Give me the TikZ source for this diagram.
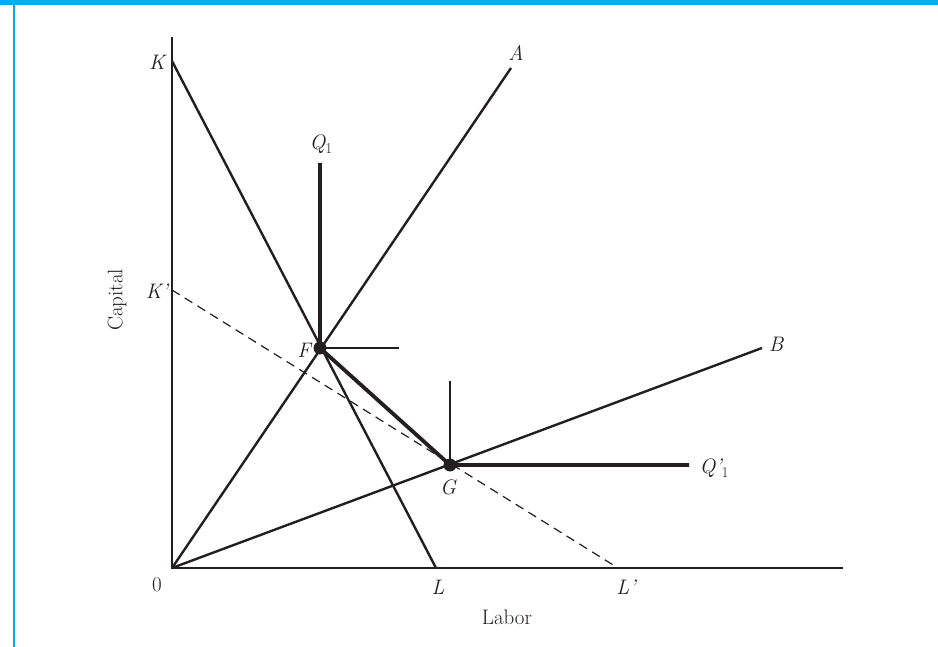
\documentclass[tikz,border=0pt]{standalone}
\usepackage{fontspec}
\setmainfont{Latin Modern Roman}
\definecolor{barblue}{RGB}{0,174,239}
\definecolor{ink}{RGB}{35,31,32}
\newcommand{\subone}{\raisebox{-0.5ex}{\upshape\fontsize{15}{17}\selectfont 1}}
\begin{document}
\begin{tikzpicture}[x=1pt,y=-1pt,
  lbl/.style={font=\fontsize{21}{24}\selectfont, text=ink, inner sep=0pt},
  ilbl/.style={lbl, font=\fontsize{21}{24}\selectfont\itshape},
  axis/.style={draw=ink, line width=1.4pt},
  ray/.style={draw=ink, line width=2.4pt},
  heavy/.style={draw=ink, line width=3.8pt},
  hair/.style={draw=ink, line width=1.2pt},
  dashline/.style={draw=ink, line width=1.2pt, dash pattern=on 9pt off 6pt},
  dot/.style={circle, fill=ink, minimum size=13pt, inner sep=0pt}]
\useasboundingbox (0,0) rectangle (938,647);
\fill[white] (0,0) rectangle (938,647);
% frame decorations
\fill[barblue] (0,0) rectangle (938,5);
\draw[barblue, line width=1.6pt] (14,5) -- (14,647);
% coordinates
\coordinate (O) at (172,568);
\coordinate (Ytop) at (172,37);
\coordinate (Xend) at (843,568);
\coordinate (K) at (172,61);
\coordinate (L) at (436,568);
\coordinate (Kp) at (172,290);
\coordinate (Lp) at (618,568);
\coordinate (Aend) at (511,68);
\coordinate (Bend) at (762,348);
\coordinate (Q1top) at (320,163);
\coordinate (Fright) at (399,348);
\coordinate (Gtop) at (450,381);
\coordinate (Gright) at (689,465);
% axes
\draw[axis] (Ytop) -- (O) -- (Xend);
% budget lines
\draw[ray] (K) -- (L);
\draw[dashline] (Kp) -- (Lp);
% rays
\draw[ray] (O) -- (Aend);
\draw[ray] (O) -- (Bend);
% points
\node[dot] (F) at (320,348) {};
\node[dot] (G) at (450,465) {};
% isoquant
\draw[heavy] (Q1top) -- (F.center) -- (G.center) -- (Gright);
\draw[hair] (F.center) -- (Fright);
\draw[hair] (G.center) -- (Gtop);
% labels
\node[ilbl] (lK) at (157,62) {K};
\node[ilbl] (lKp) at (157,291) {K’};
\node[ilbl] (lA) at (516,53) {A};
\node[ilbl] (lB) at (776,344) {B};
\node[ilbl] (lQ1) at (321,144) {Q\subone};
\node[ilbl] (lQ1p) at (714,468) {Q’\subone};
\node[ilbl] (lF) at (304,350) {F};
\node[ilbl] (lG) at (448,487) {G};
\node[lbl] (l0) at (157,585) {0};
\node[ilbl] (lL) at (438,587) {L};
\node[ilbl] (lLp) at (626,587) {L’};
\node[lbl] (lLabor) at (507,617) {Labor};
\node[lbl, rotate=90] (lCap) at (117,300) {Capital};
\end{tikzpicture}
\end{document}
